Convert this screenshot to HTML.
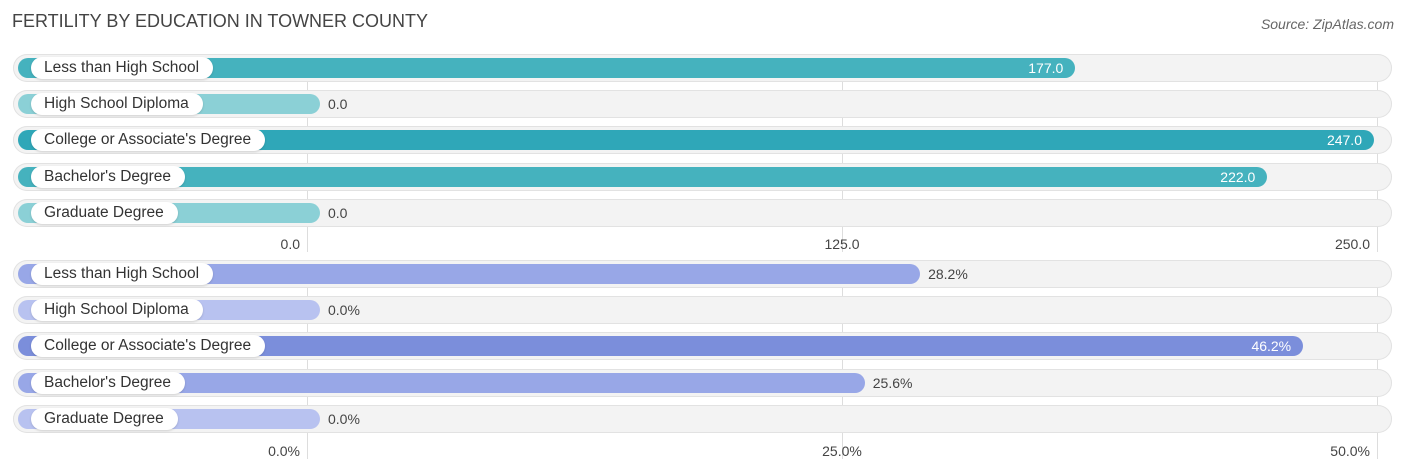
<!DOCTYPE html>
<html><head><meta charset="utf-8"><style>
body{margin:0;width:1406px;height:475px;background:#fff;font-family:"Liberation Sans",sans-serif;position:relative;overflow:hidden}
.abs{position:absolute}
.title{left:12px;top:11px;font-size:18px;color:#444}
.src{right:12px;top:16px;font-size:14px;color:#666;font-style:italic}
.grid{position:absolute;width:1px;background:#ddd}
.row{position:absolute;left:13px;width:1379px;height:28px;border-radius:14px;background:#f3f3f3;box-shadow:inset 0 0 0 1px #e2e2e2}
.bar{position:absolute;left:5px;top:4px;height:20px;border-radius:10px}
.lab{position:absolute;left:18px;top:3px;height:22px;line-height:22px;padding:0 14px 0 13px;background:#fff;border-radius:11px;font-size:15.5px;color:#333;box-shadow:0 1px 2px rgba(0,0,0,.15);white-space:nowrap}
.val{position:absolute;top:4px;line-height:20px;font-size:14px}
.tick{position:absolute;font-size:14px;color:#444}
</style></head><body>
<div class="abs title">FERTILITY BY EDUCATION IN TOWNER COUNTY</div>
<div class="abs src">Source: ZipAtlas.com</div>
<div id="c"></div>
<script>
const categories=["Less than High School","High School Diploma","College or Associate's Degree","Bachelor's Degree","Graduate Degree"];
const countValues=[177.0,0.0,247.0,222.0,0.0];
const pctValues=[28.2,0.0,46.2,25.6,0.0];
const countTicks=["0.0","125.0","250.0"];
const pctTicks=["0.0%","25.0%","50.0%"];
const c=document.getElementById('c');
function panel(vals,ticks,max,top,tickY,fmt,col,colDark,colLight,name){
  const g0=307,g1=1377;
  [0,1,2].forEach(i=>{const g=document.createElement('div');g.className='grid';
    
    
    g.style.left=(g0+(g1-g0)*i/2)+'px';g.style.top=(top-14)+'px';g.style.height=(tickY-top+30)+'px';c.appendChild(g);
    const t=document.createElement('div');t.className='tick';
    
    
    t.textContent=ticks[i];t.style.top=tickY+'px';
    const x=g0+(g1-g0)*i/2;
    if(i==0){t.style.right=(1406-x+7)+'px';}else if(i==1){t.style.left=(x-40)+'px';t.style.width='80px';t.style.textAlign='center';}else{t.style.right=(1406-x+7)+'px';}
    c.appendChild(t);});
  const scale=(1385-320)/max;
  vals.forEach((v,i)=>{
    const r=document.createElement('div');r.className='row';
    
    
    r.style.top=(top+i*36.2-14)+'px';
    const b=document.createElement('div');b.className='bar';
    
    
    const end=320+v*scale;b.style.width=(end-18)+'px';
    b.style.background=v==0?colLight:(v==Math.max(...vals)?colDark:col);
    r.appendChild(b);
    const l=document.createElement('div');l.className='lab';
    
    
    l.textContent=categories[i];r.appendChild(l);
    const t=document.createElement('div');t.className='val';
    
    
    t.textContent=fmt(v);
    if(end>1000&&v>0&&(name=='count'||v==Math.max(...vals))){t.style.right=(1392-end+12)+'px';t.style.color='#fff';}
    else{t.style.left=(end-13+8)+'px';t.style.color='#444';}
    r.appendChild(t);c.appendChild(r);});
}
panel(countValues,countTicks,247*1385/1374>0?250*(1385-320)/(1377-307)*(1377-307)/(1385-320)*((1385-320)/((1374-320)/247))/250:250,68,236,v=>v.toFixed(1),'#45b2be','#2fa7b8','#8bd0d6','count');
panel(pctValues,pctTicks,(1385-320)/21.28,274,443,v=>v.toFixed(1)+'%','#98a7e7','#7b8edb','#b8c2f0','pct');
</script>
</body></html>
